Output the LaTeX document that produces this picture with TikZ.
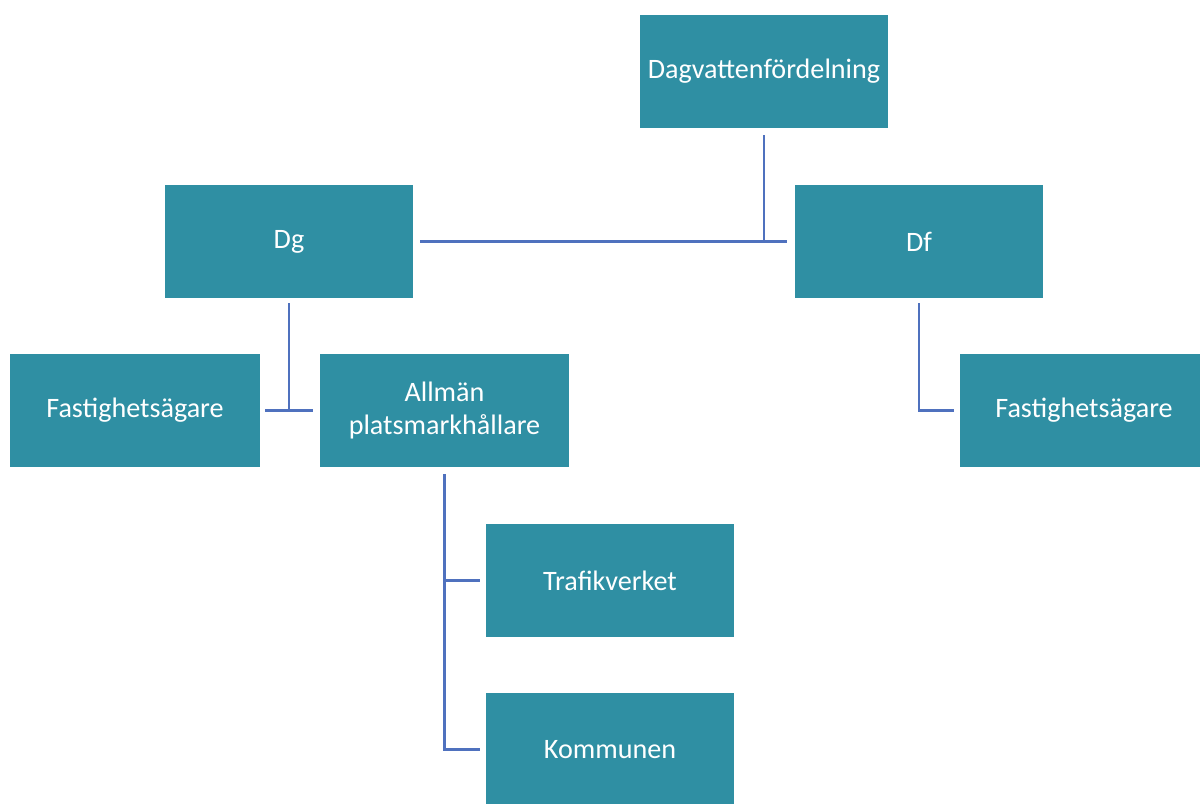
\documentclass[tikz,border=0pt]{standalone}
\usepackage{fontspec}
\setmainfont{Carlito}
\usepackage{tikz}
\usetikzlibrary{calc}
\definecolor{boxteal}{RGB}{47,143,163}
\definecolor{lineblue}{RGB}{79,113,190}

\begin{document}
\begin{tikzpicture}[
  x=0.025cm, y=-0.025cm,
  font=\fontsize{20}{24}\selectfont,
  b/.style={fill=boxteal, text=white, align=center, minimum width=6.2cm, minimum height=2.825cm, inner sep=2pt},
  ln/.style={draw=lineblue, line width=2pt}
]
\clip (0,0) rectangle (1200,803);
\node[b] (dagv) at (764,71.5) {Dagvattenfördelning};
\node[b] (dg) at (289,241.5) {Dg};
\node[b] (df) at (919,241.5) {Df};
\node[b, minimum width=6.25cm] (fastL) at (135,410.5) {Fastighetsägare};
\node[b] (allman) at (444.5,410.5) {Allmän\\platsmarkhållare};
\node[b] (fastR) at (1084,410.5) {Fastighetsägare};
\node[b] (trafik) at (610,580.5) {Trafikverket};
\node[b] (kommun) at (610,749.5) {Kommunen};
% top level
\draw[ln] ($(dagv.south)+(0,7)$) -- (dagv.south |- dg.east);
\draw[ln] ($(dg.east)+(7,0)$) -- ($(df.west)+(-8,0)$);
% Dg branch
\coordinate (tdg) at (dg.south |- fastL.east);
\draw[ln] ($(dg.south)+(0,5)$) -- (tdg);
\draw[ln] ($(fastL.east)+(5,0)$) -- ($(allman.west)+(-7,0)$);
% Df branch
\draw[ln] ($(df.south)+(0,5)$) |- ($(fastR.west)+(-6,0)$);
% Allman branch
\draw[ln] ($(allman.south)+(0,7)$) |- ($(kommun.west)+(-6,0)$);
\draw[ln] (allman.south |- trafik.west) -- ($(trafik.west)+(-6,0)$);
\end{tikzpicture}
\end{document}
